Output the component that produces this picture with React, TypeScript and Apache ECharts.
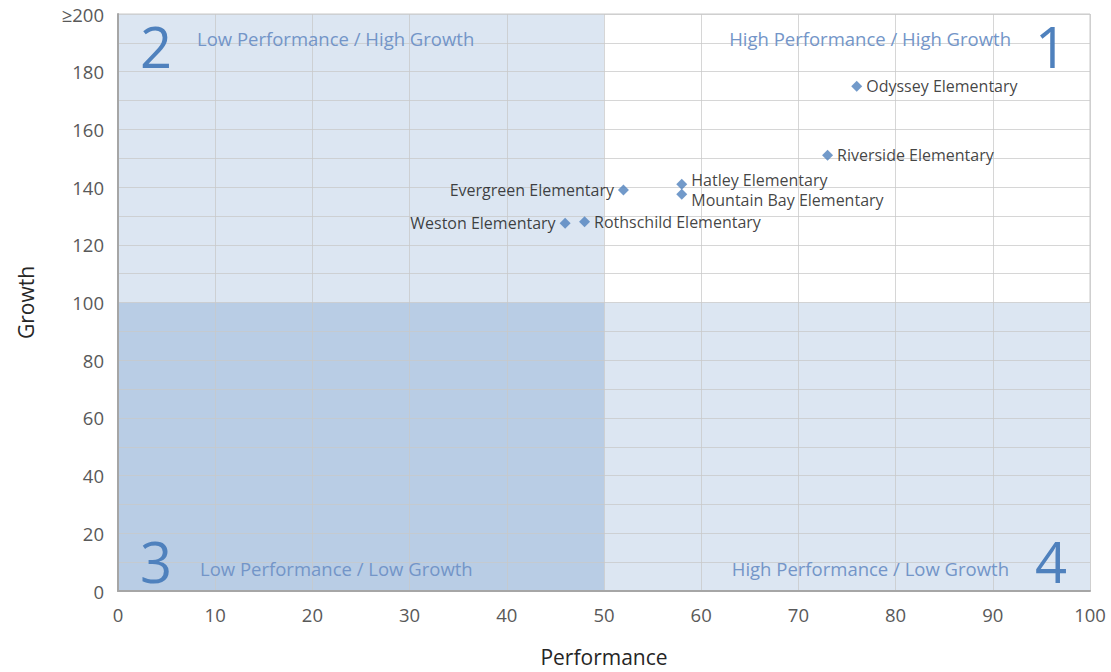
import React, { useEffect, useRef } from "react";
import * as echarts from "echarts";

const schools = [
  "Weston Elementary",
  "Rothschild Elementary",
  "Evergreen Elementary",
  "Hatley Elementary",
  "Mountain Bay Elementary",
  "Riverside Elementary",
  "Odyssey Elementary",
];
const performance = [46, 48, 52, 58, 58, 73, 76];
const growth = [127.5, 128, 139, 141, 137.5, 151, 175];
const labelSide = ["left", "right", "left", "right", "right", "right", "right"];
const labelShift = [0, 0, 0, -4, 6, 0, 0];

const xTicks = [0, 10, 20, 30, 40, 50, 60, 70, 80, 90, 100];
const yTickLabels = ["0", "20", "40", "60", "80", "100", "120", "140", "160", "180", "≥200"];

const quadrants = [
  { name: "Low Performance / High Growth", x: [0, 50], y: [100, 200], color: "#dce6f2" },
  { name: "Low Performance / Low Growth", x: [0, 50], y: [0, 100], color: "#b9cde5" },
  { name: "High Performance / Low Growth", x: [50, 100], y: [0, 100], color: "#dce6f2" },
];

export default function App() {
  const ref = useRef<HTMLDivElement>(null);
  useEffect(() => {
    if (!ref.current) return;
    const chart = echarts.init(ref.current, null, { renderer: "svg" });
    const font = "'Open Sans', sans-serif";
    const quadColor = "#4f81bd";
    const quadText = "#7395c8";
    chart.setOption({
      animation: false,
      backgroundColor: "#ffffff",
      grid: {
        left: 118,
        top: 14,
        width: 972,
        height: 579,
        show: true,
        borderColor: "#c8c8c8",
        borderWidth: 1,
        backgroundColor: "transparent",
      },
      xAxis: {
        type: "value",
        min: 0,
        max: 100,
        interval: 10,
        z: 3,
        name: "Performance",
        nameLocation: "middle",
        nameGap: 55,
        nameTextStyle: { fontFamily: font, fontSize: 21, color: "#262626" },
        axisLine: { show: true, lineStyle: { color: "#a6a6a6", width: 2 } },
        axisTick: { show: false },
        axisLabel: {
          margin: 14,
          fontFamily: font,
          fontSize: 18.5,
          color: "#595959",
          formatter: (v: number) => (xTicks.includes(v) ? String(v) : ""),
        },
        splitLine: { show: true, lineStyle: { color: "rgba(200,200,200,0.75)", width: 1 } },
      },
      yAxis: {
        type: "value",
        min: 0,
        max: 200,
        interval: 10,
        z: 3,
        name: "Growth",
        nameLocation: "middle",
        nameGap: 82,
        nameTextStyle: { fontFamily: font, fontSize: 21, color: "#262626" },
        axisLine: { show: true, lineStyle: { color: "#a6a6a6", width: 2 } },
        axisTick: { show: false },
        axisLabel: {
          margin: 14,
          fontFamily: font,
          fontSize: 18.5,
          color: "#595959",
          formatter: (v: number) => (v % 20 === 0 ? yTickLabels[v / 20] : ""),
        },
        splitLine: { show: true, lineStyle: { color: "rgba(200,200,200,0.75)", width: 1 } },
      },
      series: [
        {
          type: "scatter",
          z: 1,
          data: [],
          silent: true,
          markArea: {
            silent: true,
            data: quadrants.map((q) => [
              { xAxis: q.x[0], yAxis: q.y[0], itemStyle: { color: q.color, opacity: 1 } },
              { xAxis: q.x[1], yAxis: q.y[1] },
            ]),
          },
        },
        {
          type: "scatter",
          z: 5,
          symbol: "diamond",
          symbolSize: 11,
          itemStyle: { color: "#4f81bd" },
          data: schools.map((s, i) => ({
            name: s,
            value: [performance[i], growth[i]],
            label: {
              show: true,
              position: labelSide[i],
              distance: 4,
              offset: [0, labelShift[i]],
              formatter: s,
              fontFamily: font,
              fontSize: 16,
              lineHeight: 16,
              color: "#111111",
            },
          })),
        },
      ],
      graphic: [
        { type: "text", left: 140, top: 18, z: 10, style: { text: "2", fontFamily: font, fontSize: 56, fill: quadColor } },
        { type: "text", left: 197, top: 29, z: 10, style: { text: "Low Performance / High Growth", fontFamily: font, fontSize: 18.5, fill: quadText } },
        { type: "text", left: 1035, top: 18, z: 10, style: { text: "1", fontFamily: font, fontSize: 56, fill: quadColor } },
        { type: "text", right: 100, top: 29, z: 10, style: { text: "High Performance / High Growth", fontFamily: font, fontSize: 18.5, fill: quadText } },
        { type: "text", left: 140, top: 533, z: 10, style: { text: "3", fontFamily: font, fontSize: 56, fill: quadColor } },
        { type: "text", left: 200, top: 559, z: 10, style: { text: "Low Performance / Low Growth", fontFamily: font, fontSize: 18.5, fill: quadText } },
        { type: "text", left: 1035, top: 533, z: 10, style: { text: "4", fontFamily: font, fontSize: 56, fill: quadColor } },
        { type: "text", right: 102, top: 559, z: 10, style: { text: "High Performance / Low Growth", fontFamily: font, fontSize: 18.5, fill: quadText } },
      ],
    });
    return () => chart.dispose();
  }, []);
  return (
    <div
      ref={ref}
      style={{ position: "fixed", left: 0, top: 0, width: 1111, height: 672 }}
    />
  );
}
